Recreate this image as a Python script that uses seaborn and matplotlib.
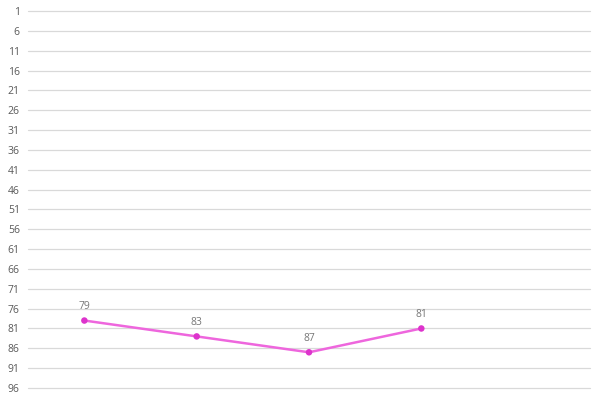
import numpy as np
import pandas as pd
import seaborn as sns
import matplotlib.pyplot as plt

# values (y axis is a rank, inverted)
categories = ["A", "B", "C", "D"]
ranks = [79, 83, 87, 81]
y_ticks = list(range(1, 97, 5))

df = pd.DataFrame({"pos": np.arange(len(categories)), "rank": ranks})

sns.set_theme(style="white")
plt.rcParams["font.family"] = ["Open Sans", "DejaVu Sans"]

fig = plt.figure(figsize=(6, 4), dpi=100)
ax = fig.add_axes([0.047, 0.03, 0.936, 0.9425])

sns.lineplot(data=df, x="pos", y="rank", color="#EE66DD", linewidth=1.8, ax=ax, zorder=3)
sns.scatterplot(data=df, x="pos", y="rank", color="#DD33CC", s=22, edgecolor="none", ax=ax, zorder=4)

for x, r in zip(df["pos"], df["rank"]):
    ax.annotate(str(r), (x, r), xytext=(0, 6), textcoords="offset points",
                ha="center", va="bottom", fontsize=7.5, color="#777777")

ax.set_xlim(-0.5, 4.5)
ax.set_ylim(96, 1)
ax.set_yticks(y_ticks)
ax.set_yticklabels([str(t) for t in y_ticks], fontsize=7.5, color="#595959")
ax.set_xticks([])
ax.set_xlabel("")
ax.set_ylabel("")
ax.tick_params(axis="y", length=0, pad=6)
ax.yaxis.grid(True, color="#D9D9D9", linewidth=0.9)
for gl in ax.get_ygridlines():
    gl.set_clip_on(False)
ax.set_axisbelow(True)
sns.despine(ax=ax, left=True, bottom=True)

plt.savefig("out.png", dpi=100)
